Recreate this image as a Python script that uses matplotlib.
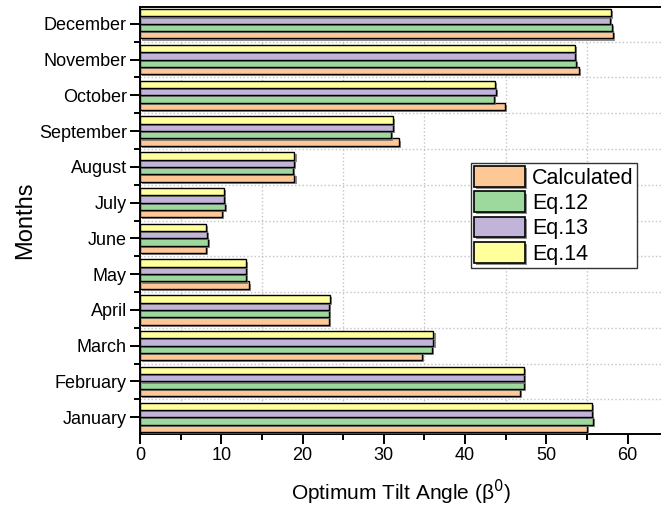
import numpy as np
import matplotlib.pyplot as plt
import matplotlib.patheffects as pe
from matplotlib.ticker import MultipleLocator

plt.rcParams['font.family'] = ['Liberation Sans', 'DejaVu Sans']

# --------------------------------------------------
# DATA
# --------------------------------------------------
months = ["January", "February", "March", "April", "May", "June",
          "July", "August", "September", "October", "November", "December"]

calculated = [55.0, 46.7, 34.7, 23.2, 13.4, 8.1, 10.1, 19.0, 31.9, 44.9, 54.0, 58.2]
eq12 = [55.7, 47.2, 35.9, 23.2, 13.0, 8.4, 10.5, 18.8, 30.9, 43.6, 53.6, 58.1]
eq13 = [55.6, 47.25, 36.1, 23.3, 13.0, 8.2, 10.3, 18.9, 31.1, 43.8, 53.5, 57.85]
eq14 = [55.6, 47.2, 36.1, 23.4, 13.0, 8.1, 10.3, 19.0, 31.1, 43.7, 53.5, 57.9]

series = [("Calculated", calculated, "#fdc896"),
          ("Eq.12", eq12, "#9dd89d"),
          ("Eq.13", eq13, "#c2b3d8"),
          ("Eq.14", eq14, "#ffff9c")]

# --------------------------------------------------
# PLOT
# --------------------------------------------------
fig = plt.figure(figsize=(6.61, 5.08), dpi=100)
ax = fig.add_axes([140 / 661, 1 - 434 / 508, 1 - 140 / 661, (434 - 7) / 508])

y = np.arange(len(months))
h = 0.205
shadow = [pe.SimplePatchShadow(offset=(1.5, -1.5), shadow_rgbFace='#707070', alpha=0.8),
          pe.Normal()]

for i, (name, vals, col) in enumerate(series):
    bars = ax.barh(y + (i - 1.5) * h, vals, height=h, color=col,
                   edgecolor='black', linewidth=1.0, label=name, zorder=3)
    for b in bars:
        b.set_path_effects(shadow)

ax.set_xlim(0, 64.1)
ax.set_ylim(-0.47, 11.47)
ax.set_yticks(y)
ax.set_yticklabels(months)
ax.xaxis.set_major_locator(MultipleLocator(10))
ax.xaxis.set_minor_locator(MultipleLocator(5))
ax.yaxis.set_minor_locator(MultipleLocator(1, offset=0.5))

ax.grid(which='minor', linestyle=':', color='#c4c4c4', linewidth=1.0, zorder=0)
ax.grid(which='major', visible=False)

ax.tick_params(which='major', direction='out', length=7, width=1.4, labelsize=13, pad=2.5)
ax.tick_params(which='minor', direction='out', length=4, width=1.4)

for s in ['left', 'bottom', 'top']:
    ax.spines[s].set_linewidth(1.4)
ax.spines['right'].set_visible(False)

ax.set_xlabel("Optimum Tilt Angle (β$^{0}$)", fontsize=15, labelpad=10)
ax.set_ylabel("Months", fontsize=17, labelpad=2)

leg = ax.legend(loc='upper left', bbox_to_anchor=(471 / 661, 1 - 163 / 508),
                bbox_transform=fig.transFigure, fontsize=15.5, frameon=True,
                fancybox=False, handlelength=2.35, handleheight=1.1,
                handletextpad=0.35, labelspacing=0.12, borderpad=0.15,
                borderaxespad=0)
leg.get_frame().set_edgecolor('#333333')
leg.get_frame().set_linewidth(1.0)
leg.get_frame().set_alpha(1)
for p in leg.get_patches():
    p.set_edgecolor('black')
    p.set_linewidth(1.2)

fig.savefig("out.png", dpi=100)
